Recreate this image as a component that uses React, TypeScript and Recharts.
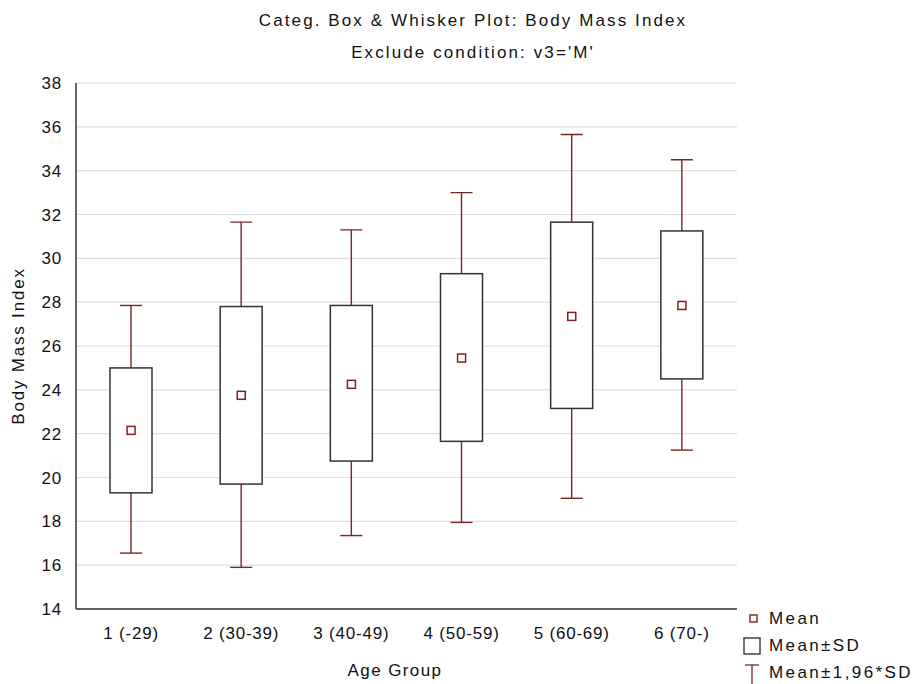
import React from "react";
import { ComposedChart, Bar, Line, XAxis, YAxis, CartesianGrid } from "recharts";

const ageGroups = ["1 (-29)", "2 (30-39)", "3 (40-49)", "4 (50-59)", "5 (60-69)", "6 (70-)"];
const means = [22.15, 23.75, 24.25, 25.45, 27.35, 27.85];
const sdLow = [19.3, 19.7, 20.75, 21.65, 23.15, 24.5];
const sdHigh = [25.0, 27.8, 27.85, 29.3, 31.65, 31.25];
const ciLow = [16.55, 15.9, 17.35, 17.95, 19.05, 21.25];
const ciHigh = [27.85, 31.65, 31.3, 33.0, 35.65, 34.5];
const yTicks = [14, 16, 18, 20, 22, 24, 26, 28, 30, 32, 34, 36, 38];

const data = ageGroups.map((group, i) => ({
  group,
  mean: means[i],
  whisker: [ciLow[i], ciHigh[i]],
  sdLow: sdLow[i],
  sdHigh: sdHigh[i],
  ciLow: ciLow[i],
  ciHigh: ciHigh[i],
}));

const WHISKER = "#7a2424";
const BOX = "#333333";
const FONT = "'Liberation Sans', Arial, sans-serif";

function BoxShape(props: any) {
  const { x, y, width, height, payload } = props;
  const top = Math.min(y, y + height);
  const bottom = Math.max(y, y + height);
  const toPx = (v: number) =>
    top + ((bottom - top) * (payload.ciHigh - v)) / (payload.ciHigh - payload.ciLow);
  const cx = x + width / 2;
  const boxTop = toPx(payload.sdHigh);
  const boxBottom = toPx(payload.sdLow);
  return (
    <g>
      <line x1={cx} x2={cx} y1={top} y2={bottom} stroke={WHISKER} strokeWidth={1.4} />
      <line x1={cx - 11} x2={cx + 11} y1={top} y2={top} stroke={WHISKER} strokeWidth={1.4} />
      <line x1={cx - 11} x2={cx + 11} y1={bottom} y2={bottom} stroke={WHISKER} strokeWidth={1.4} />
      <rect x={x} y={boxTop} width={width} height={boxBottom - boxTop} fill="#fff" stroke={BOX} strokeWidth={1.5} />
    </g>
  );
}

function MeanDot(props: any) {
  const { cx, cy, index } = props;
  return <rect key={index} x={cx - 4} y={cy - 4} width={8} height={8} fill="#fff" stroke="#8b1c1c" strokeWidth={1.5} />;
}

const emptyTick = () => <g />;
const tickStyle = { fill: "#111", fontSize: 17, fontFamily: FONT, letterSpacing: 0.8 };

export default function App() {
  return (
    <div style={{ position: "relative", width: 918, height: 684, background: "#fff", fontFamily: FONT, color: "#111" }}>
      <style>{`body{margin:0}`}</style>
      <div style={{ position: "absolute", left: 0, width: 918, top: 11, textAlign: "center", fontSize: 17, letterSpacing: 2.1, paddingLeft: 14 }}>
        Categ. Box &amp; Whisker Plot: Body Mass Index
      </div>
      <div style={{ position: "absolute", left: 0, width: 918, top: 43, textAlign: "center", fontSize: 17, letterSpacing: 2.1, paddingLeft: 14 }}>
        Exclude condition: v3='M'
      </div>
      <div
        style={{
          position: "absolute",
          left: 19,
          top: 346,
          fontSize: 17,
          letterSpacing: 1.8,
          whiteSpace: "nowrap",
          transform: "translate(-50%, -50%) rotate(-90deg)",
        }}
      >
        Body Mass Index
      </div>
      <div style={{ position: "absolute", left: 0, width: 790, top: 661, textAlign: "center", fontSize: 17, letterSpacing: 1.4 }}>
        Age Group
      </div>
      <ComposedChart
        width={918}
        height={684}
        data={data}
        margin={{ top: 83, right: 181, bottom: 45, left: 20 }}
      >
        <CartesianGrid horizontal vertical={false} stroke="#dedede" strokeWidth={1.2} />
        <XAxis
          dataKey="group"
          type="category"
          height={30}
          tickLine={false}
          axisLine={{ stroke: BOX, strokeWidth: 1.5 }}
          tick={tickStyle}
          tickMargin={12}
          interval={0}
        />
        <XAxis
          xAxisId="bottomTicks"
          dataKey="group"
          type="category"
          height={0}
          mirror
          tick={emptyTick}
          tickSize={5}
          tickLine={{ stroke: BOX }}
          axisLine={false}
          interval={0}
        />
        <XAxis
          xAxisId="top"
          dataKey="group"
          orientation="top"
          height={0}
          tick={emptyTick}
          tickLine={false}
          axisLine={{ stroke: BOX, strokeWidth: 1.5 }}
        />
        <YAxis
          domain={[14, 38]}
          ticks={yTicks}
          width={56}
          tickLine={false}
          axisLine={{ stroke: BOX, strokeWidth: 1.5 }}
          tick={tickStyle}
          tickMargin={8}
          allowDataOverflow
        />
        <YAxis
          yAxisId="leftTicks"
          domain={[14, 38]}
          ticks={yTicks}
          width={0}
          mirror
          tick={emptyTick}
          tickSize={5}
          tickLine={{ stroke: BOX }}
          axisLine={false}
        />
        <YAxis
          yAxisId="right"
          orientation="right"
          domain={[14, 38]}
          ticks={yTicks}
          width={0}
          mirror
          tick={emptyTick}
          tickSize={5}
          tickLine={{ stroke: BOX }}
          axisLine={{ stroke: BOX, strokeWidth: 1.5 }}
        />
        <Bar dataKey="whisker" barSize={42} shape={BoxShape} isAnimationActive={false} />
        <Line dataKey="mean" stroke="none" dot={MeanDot} activeDot={false} isAnimationActive={false} />
      </ComposedChart>
      <div style={{ position: "absolute", left: 742, top: 605, fontSize: 17, letterSpacing: 2.4, lineHeight: "27px" }}>
        <div style={{ display: "flex", alignItems: "center" }}>
          <svg width={22} height={18}>
            <rect x={8} y={5} width={7} height={7} fill="#fff" stroke="#8b1c1c" strokeWidth={1.4} />
          </svg>
          <span style={{ marginLeft: 5 }}>Mean</span>
        </div>
        <div style={{ display: "flex", alignItems: "center" }}>
          <svg width={22} height={20}>
            <rect x={2} y={2} width={16} height={16} fill="#fff" stroke={BOX} strokeWidth={1.4} />
          </svg>
          <span style={{ marginLeft: 5 }}>Mean±SD</span>
        </div>
        <div style={{ display: "flex", alignItems: "center" }}>
          <svg width={22} height={22}>
            <line x1={3} x2={17} y1={3} y2={3} stroke={WHISKER} strokeWidth={1.3} />
            <line x1={10} x2={10} y1={3} y2={22} stroke={WHISKER} strokeWidth={1.3} />
          </svg>
          <span style={{ marginLeft: 5 }}>Mean±1,96*SD</span>
        </div>
      </div>
    </div>
  );
}
